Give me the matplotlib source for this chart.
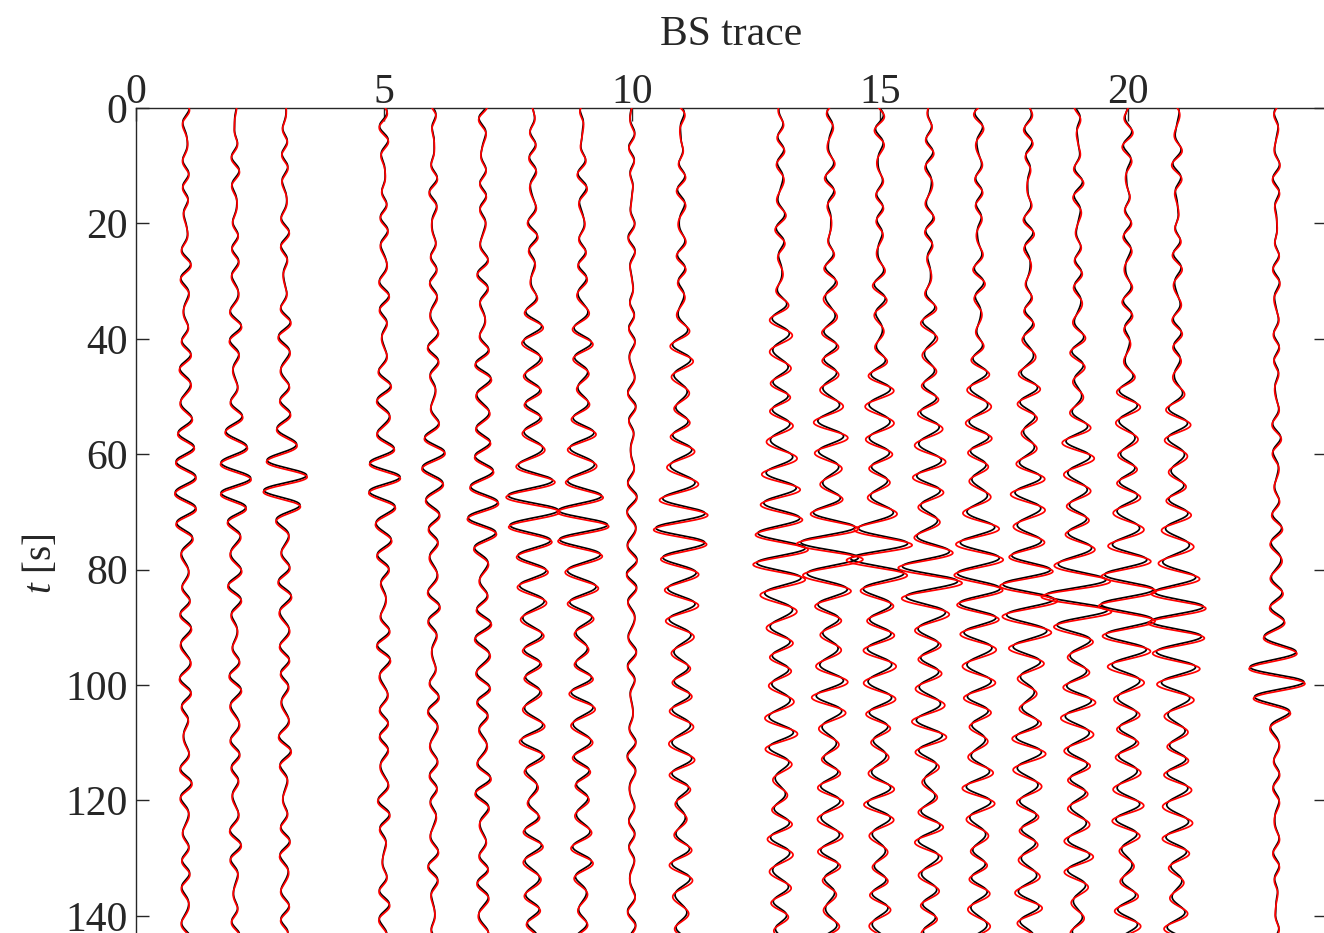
import numpy as np
import matplotlib
matplotlib.use("Agg")
import matplotlib.pyplot as plt

plt.rcParams["font.family"] = ["Liberation Serif", "DejaVu Serif"]
plt.rcParams["mathtext.fontset"] = "custom"
plt.rcParams["mathtext.it"] = "Liberation Serif:italic"
plt.rcParams["mathtext.rm"] = "Liberation Serif"

# Trace positions along the BS-trace axis
trace_x = [1, 2, 3, 5, 6, 7, 8, 9, 10, 11, 13, 14, 15, 16, 17, 18, 19, 20, 21, 23]
# Envelope centre of the main arrival [s]
arr_center = [64.0, 64.0, 64.0, 64.0, 63.0, 67.5, 70.9, 72.0, 78.0, 74.0,
              74.9, 76.3, 78.3, 81.0, 82.5, 83.2, 84.7, 85.8, 88.7, 98.0]
# Time of a rightward peak inside the main arrival [s]
arr_peak = [64.0, 64.0, 63.6, 64.0, 65.0, 68.3, 69.7, 72.3, 78.0, 75.4,
            76.3, 78.0, 75.4, 82.1, 83.2, 85.3, 87.0, 88.7, 91.7, 99.5]
# Main-arrival amplitude (trace spacing units)
arr_amp = [0.15, 0.23, 0.32, 0.23, 0.13, 0.17, 0.36, 0.36, 0.05, 0.36,
           0.35, 0.35, 0.33, 0.30, 0.30, 0.34, 0.38, 0.42, 0.41, 0.45]
# Background level early in the record and around the arrival
bg_floor = [0.045, 0.045, 0.045, 0.05, 0.045, 0.05, 0.05, 0.05, 0.04, 0.05,
            0.05, 0.05, 0.05, 0.05, 0.05, 0.05, 0.05, 0.05, 0.05, 0.04]
bg_level = [0.09, 0.09, 0.09, 0.09, 0.08, 0.12, 0.18, 0.18, 0.06, 0.18,
            0.20, 0.20, 0.20, 0.20, 0.20, 0.20, 0.20, 0.20, 0.20, 0.09]
# Onset and fade-out of the elevated background [s]
bg_on = [30, 30, 30, 32, 32, 34, 36, 37, 42, 40,
         38, 40, 42, 44, 46, 47, 48, 50, 52, 64]
bg_off = [200, 200, 200, 200, 200, 200, 200, 200, 200, 200,
          200, 200, 200, 200, 200, 200, 200, 200, 200, 108]
# Phase of the secondary background components [rad]
bg_phase = [0.3, 1.7, 2.9, 4.1, 5.2, 0.9, 2.2, 3.6, 4.8, 5.9,
            1.1, 2.6, 3.9, 0.5, 1.9, 3.2, 4.5, 5.6, 0.2, 2.4]
# Synthetic (red) background gain relative to the observed (black) trace
red_gain = [1.1, 1.1, 1.1, 1.1, 1.1, 1.1, 1.2, 1.2, 1.0, 1.3,
            1.35, 1.35, 1.35, 1.35, 1.35, 1.35, 1.35, 1.35, 1.35, 1.2]

x_ticks = [0, 5, 10, 15, 20]
y_ticks = [0, 20, 40, 60, 80, 100, 120, 140]

PERIOD = 5.3
WIDTH = 7.0
CODA_DECAY = 70.0
t = np.linspace(0, 160, 4000)


def waveform(i, shift=0.0, gain=1.0):
    tt = t - shift
    main = arr_amp[i] * np.exp(-((tt - arr_center[i]) / WIDTH) ** 2) * \
        np.cos(2 * np.pi * (tt - arr_peak[i]) / PERIOD)
    rise = 1 / (1 + np.exp(-(tt - bg_on[i]) / 6.0))
    fall = 1 / (1 + np.exp((tt - bg_off[i]) / 4.0))
    coda = np.exp(-np.clip(tt - arr_center[i] - 25, 0, None) / CODA_DECAY)
    env = (bg_floor[i] + (bg_level[i] - bg_floor[i]) * rise * coda) * fall + \
        bg_floor[i] * (1 - fall)
    bg = gain * env * (np.cos(2 * np.pi * (tt - arr_peak[i]) / PERIOD)
                       + 0.3 * np.cos(2 * np.pi * tt / 6.9 + bg_phase[i] * 1.7))
    bg += 0.5 * bg_floor[i] * np.cos(2 * np.pi * tt / 3.9 + bg_phase[i])
    return main + bg


fig = plt.figure(figsize=(13.24, 9.33), dpi=100)
ax_h = 158 * 5.77
ax = fig.add_axes([136 / 1324, 1 - (108 + ax_h) / 933, 1190 / 1324, ax_h / 933])

for i, x0 in enumerate(trace_x):
    ax.plot(x0 + waveform(i), t, color="black", lw=1.25, zorder=2)
    ax.plot(x0 + waveform(i, shift=0.3, gain=red_gain[i]), t, color="red", lw=1.25, zorder=3)

ax.set_xlim(0, 24)
ax.set_ylim(158, 0)
ax.xaxis.tick_top()
ax.xaxis.set_label_position("top")
ax.set_xticks(x_ticks)
ax.set_yticks(y_ticks)
ax.tick_params(direction="in", length=9, width=1.0, labelsize=30, colors="#262626",
               top=True, right=True, bottom=False)
ax.tick_params(axis="x", pad=-3)
ax.tick_params(axis="y", pad=6)
for s in ax.spines.values():
    s.set_color("#262626")
    s.set_linewidth(1.0)
ax.set_xlabel("BS trace", fontsize=30, color="#262626", labelpad=21)
ax.set_ylabel(r"$t$ [s]", fontsize=28, color="#262626", labelpad=4)

fig.savefig("out.png", dpi=100)
